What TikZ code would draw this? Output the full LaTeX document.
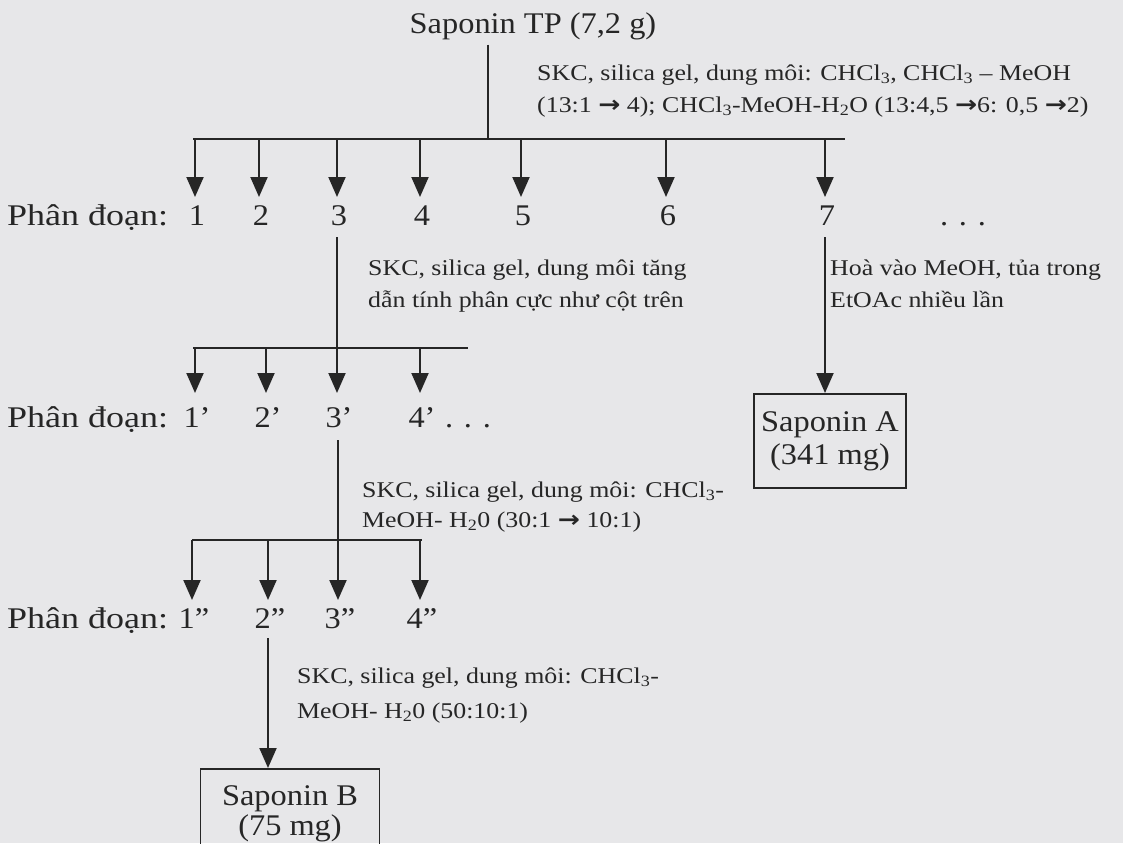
\documentclass[tikz,border=0pt]{standalone}
\usepackage{fontspec}
\setmainfont{Liberation Serif}[FakeStretch=1.08]
\newfontfamily\annfont{Liberation Serif}[FakeStretch=1.15]
\newfontfamily\wideserif{Liberation Serif}[FakeStretch=1.2]
\newfontfamily\arrfont{DejaVu Sans}[FakeStretch=1.15]
\newcommand\rarr{{\arrfont\bfseries\fontsize{23}{23}\selectfont →}}
\usetikzlibrary{arrows.meta}
\definecolor{bg}{RGB}{231,231,233}
\definecolor{ink}{RGB}{38,38,38}
\begin{document}
\begin{tikzpicture}[x=1pt,y=-1pt,
  line/.style={draw=ink,line width=2pt},
  arr/.style={draw=ink,line width=2pt,-{Triangle[length=20pt,width=17pt]}},
  big/.style={font=\fontsize{30}{26}\selectfont, text=ink, inner sep=0pt},
  lbl/.style={big, anchor=base},
  rowlbl/.style={font=\wideserif\fontsize{30}{26}\selectfont, text=ink, inner sep=0pt, anchor=base west},
  ann/.style={font=\annfont\fontsize{22.5}{30}\selectfont, text=ink, inner sep=0pt, anchor=base west},
  boxnode/.style={draw=ink, line width=1.8pt, big, align=center}]
\fill[bg] (0,0) rectangle (1123,843);
\useasboundingbox (0,0) rectangle (1123,843);
\clip (0,0) rectangle (1123,843);

% top
\node[lbl] (top) at (533,34) {Saponin TP (7,2 g)};
\coordinate (j1) at (488,139);
\coordinate (h1l) at (193,139);
\coordinate (h1r) at (845,139);
\node[ann] (a1a) at (537,80) {SKC, silica gel, dung môi: CHCl\textsubscript{3}, CHCl\textsubscript{3} – MeOH};
\node[ann] (a1b) at (537,112) {(13:1 \rarr{} 4); CHCl\textsubscript{3}-MeOH-H\textsubscript{2}O (13:4,5 \rarr6: 0,5 \rarr2)};
\draw[line] (j1 |- top.south) ++(0,4) -- (j1);
\draw[line] (h1l) -- (h1r);

% row 1
\node[rowlbl] (p1) at (7,225) {Phân đoạn:};
\foreach \n/\x in {1/195,2/259,3/337,4/420,5/521,6/666,7/825}{
  \node[lbl] (f\n) at (\x+2,225) {\n};
  \draw[arr] (\x,139) -- (\x,197);
}
\node[lbl] (d1) at (963,225) {. . .};

% column from 3
\coordinate (j2) at (337,348);
\draw[line] (j2 |- f3.south) ++(0,12) -- (j2);
\draw[line] (193,348) -- (468,348);
\node[ann] (a2a) at (368,275) {SKC, silica gel, dung môi tăng};
\node[ann] (a2b) at (368,307) {dẫn tính phân cực như cột trên};

% column from 7
\node[boxnode, font=\fontsize{30}{33}\selectfont, minimum width=152pt, minimum height=94pt, anchor=north] (sa) at (830,393) {Saponin A\\(341 mg)};
\coordinate (c7) at (825,393);
\draw[arr] (c7 |- f7.south) ++(0,12) -- (sa.north -| c7);
\node[ann] (a3a) at (830,275) {Hoà vào MeOH, tủa trong};
\node[ann] (a3b) at (830,307) {EtOAc nhiều lần};

% row 2
\node[rowlbl] (p2) at (7,427) {Phân đoạn:};
\foreach \n/\x in {1/195,2/266,3/337,4/420}{
  \node[lbl] (g\n) at (\x+2,427) {\n’};
  \draw[arr] (\x,348) -- (\x,393);
}
\node[lbl] (d2) at (468,427) {. . .};

% column from 3'
\coordinate (j3) at (338,540);
\draw[line] (j3 |- g3.south) ++(0,13) -- (j3);
\draw[line] (192,540) -- (422,540);
\node[ann] (a4a) at (362,497) {SKC, silica gel, dung môi: CHCl\textsubscript{3}-};
\node[ann] (a4b) at (362,527) {MeOH- H\textsubscript{2}0 (30:1 \rarr{} 10:1)};

% row 3
\node[rowlbl] (p3) at (7,628) {Phân đoạn:};
\foreach \n/\x in {1/192,2/268,3/338,4/420}{
  \node[lbl] (k\n) at (\x+2,628) {\n”};
  \draw[arr] (\x,540) -- (\x,600);
}

% column from 2''
\node[boxnode, font=\fontsize{30}{30}\selectfont, minimum width=179pt, minimum height=90pt, anchor=north, inner ysep=12pt] (sb) at (290,768) {Saponin B\\(75 mg)};
\coordinate (c2) at (268,768);
\draw[arr] (c2 |- k2.south) ++(0,10) -- (c2);
\node[ann] (a5a) at (297,683) {SKC, silica gel, dung môi: CHCl\textsubscript{3}-};
\node[ann] (a5b) at (297,718) {MeOH- H\textsubscript{2}0 (50:10:1)};
\end{tikzpicture}
\end{document}
